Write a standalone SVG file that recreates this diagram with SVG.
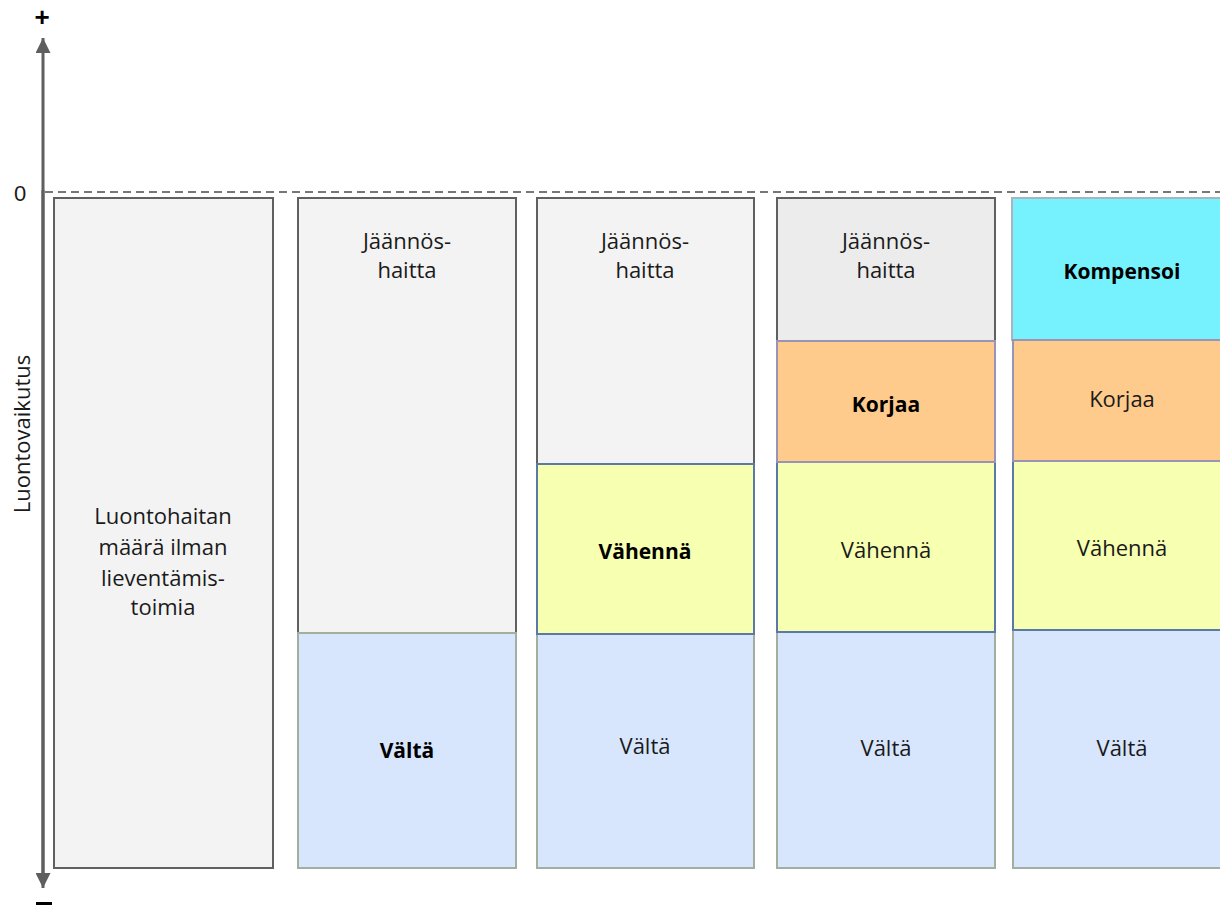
<svg xmlns="http://www.w3.org/2000/svg" width="1220" height="907" viewBox="0 0 1220 907">
<style>
text{font-family:"Open Sans","Liberation Sans",Arial,sans-serif;font-size:22px;fill:#1a1a1a;text-anchor:middle}
.b{font-weight:bold;fill:#000;font-size:21px}
.ax{font-family:"Liberation Sans",Arial,sans-serif}
.g{fill:#f3f3f3;stroke:#606060;stroke-width:2}
.g2{fill:#ececec;stroke:#606060;stroke-width:2}
.bl{fill:#d7e6fc;stroke:#a2ae9f;stroke-width:2}
.y{fill:#f7ffb1;stroke:#5b79a6;stroke-width:2}
.o{fill:#fecb8c;stroke:#9b93b6;stroke-width:2}
.c{fill:#76f2fe;stroke:#aab4c0;stroke-width:2}
</style>
<defs>
<marker id="ah" viewBox="0 0 10 10" refX="10" refY="5" markerWidth="5" markerHeight="5" orient="auto" markerUnits="strokeWidth"><path d="M0,0 L10,5 L0,10 z" fill="#5f5f5f"/></marker>
</defs>
<g id="connectors">
<line x1="43" y1="880" x2="43" y2="38" stroke="#5f5f5f" stroke-width="3" marker-end="url(#ah)"/>
<line x1="43" y1="190" x2="43" y2="888" stroke="#5f5f5f" stroke-width="3" marker-end="url(#ah)"/>
<line x1="45" y1="192" x2="1220" y2="192" stroke="#777" stroke-width="2" stroke-dasharray="8,5"/>
</g>
<g id="axis-labels">
<text x="42" y="26" class="b ax" style="font-size:26px">+</text>
<rect x="36" y="902" width="16" height="3" fill="#000"/>
<text x="20" y="201" class="ax" style="font-size:22px">0</text>
<text transform="translate(30,434) rotate(-90)">Luontovaikutus</text>
</g>
<g id="col1">
<rect class="g" x="54" y="198" width="219" height="670"/>
<text x="163" y="524">Luontohaitan</text>
<text x="163" y="555">määrä ilman</text>
<text x="163" y="586">lieventämis-</text>
<text x="163" y="615">toimia</text>
</g>
<g id="col2">
<rect class="g" x="298" y="198" width="218" height="435"/>
<text x="407" y="249">Jäännös-</text>
<text x="407" y="278">haitta</text>
<rect class="bl" x="298" y="633" width="218" height="235"/>
<text x="407" y="758" class="b">Vältä</text>
</g>
<g id="col3">
<rect class="g" x="537" y="198" width="217" height="266"/>
<text x="645" y="249">Jäännös-</text>
<text x="645" y="278">haitta</text>
<rect class="bl" x="537" y="634" width="217" height="234"/>
<text x="645" y="754">Vältä</text>
<rect class="y" x="537" y="464" width="217" height="170"/>
<text x="645" y="559" class="b">Vähennä</text>
</g>
<g id="col4">
<rect class="g2" x="777" y="198" width="218" height="143"/>
<text x="886" y="249">Jäännös-</text>
<text x="886" y="278">haitta</text>
<rect class="bl" x="777" y="632" width="218" height="236"/>
<text x="886" y="756">Vältä</text>
<rect class="y" x="777" y="462" width="218" height="170"/>
<text x="886" y="558">Vähennä</text>
<rect class="o" x="777" y="341" width="218" height="121"/>
<text x="886" y="412" class="b">Korjaa</text>
</g>
<g id="col5">
<rect class="c" x="1012" y="198" width="212" height="142"/>
<text x="1122" y="279" class="b">Kompensoi</text>
<rect class="bl" x="1013" y="630" width="211" height="238"/>
<text x="1122" y="756">Vältä</text>
<rect class="y" x="1013" y="461" width="211" height="169"/>
<text x="1122" y="556">Vähennä</text>
<rect class="o" x="1013" y="340" width="211" height="121"/>
<text x="1122" y="407">Korjaa</text>
</g>
</svg>
